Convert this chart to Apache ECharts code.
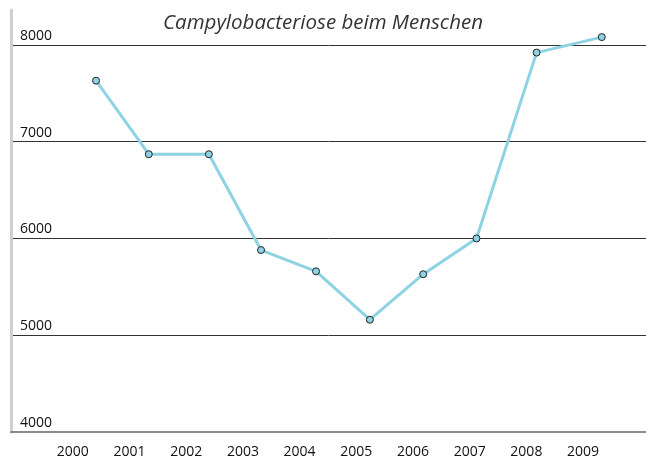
<!DOCTYPE html>
<html>
<head>
<meta charset="utf-8">
<script src="https://cdn.jsdelivr.net/npm/echarts@6/dist/echarts.min.js"></script>
<style>
  html, body { margin: 0; padding: 0; background: #fff; }
  #chart { width: 646px; height: 459px; }
</style>
</head>
<body>
<div id="chart"></div>
<script>
// year labels shown under the axis
const years = [2000, 2001, 2002, 2003, 2004, 2005, 2006, 2007, 2008, 2009]
// where each point sits on the year scale (points are not centred on labels)
const pointX = [2000.41, 2001.34, 2002.40, 2003.32, 2004.29, 2005.24, 2006.18, 2007.12, 2008.18, 2009.33]
// cases
const cases = [7630, 6870, 6870, 5880, 5660, 5160, 5630, 6000, 7920, 8080]

const chart = echarts.init(document.getElementById('chart'))

chart.setOption({
  animation: false,
  title: {
    text: 'Campylobacteriose beim Menschen',
    left: 'center',
    top: 8,
    textStyle: {
      fontFamily: 'Open Sans',
      fontStyle: 'italic',
      fontWeight: 'normal',
      fontSize: 20.5,
      color: '#333'
    }
  },
  grid: { left: 11, right: 0, top: 10, bottom: 27 },
  xAxis: {
    type: 'value',
    min: 1998.91,
    max: 2010.11,
    minInterval: 1,
    maxInterval: 1,
    splitLine: { show: false },
    axisTick: { show: false },
    axisLine: { lineStyle: { color: '#8a8a8a', width: 2 } },
    axisLabel: {
      showMinLabel: false,
      showMaxLabel: false,
      margin: 13,
      fontFamily: 'Open Sans',
      fontSize: 14,
      color: '#111',
      formatter: v => (years.indexOf(v) >= 0 ? String(v) : '')
    }
  },
  yAxis: {
    type: 'value',
    min: 4000,
    max: 8360,
    interval: 1000,
    axisLine: { show: true, lineStyle: { color: '#cfcfcf', width: 3 } },
    axisTick: { show: false },
    splitLine: {
      show: true,
      showMaxLine: false,
      lineStyle: { color: '#333', width: 1 }
    },
    axisLabel: {
      inside: true,
      margin: 9,
      showMaxLabel: false,
      verticalAlign: 'bottom',
      padding: [0, 0, 2, 0],
      fontFamily: 'Open Sans',
      fontSize: 14,
      color: '#111',
      formatter: v => (v % 1000 === 0 ? String(v) : '')
    }
  },
  series: [
    {
      type: 'line',
      data: pointX.map((x, i) => [x, cases[i]]),
      symbol: 'circle',
      symbolSize: 7,
      clip: false,
      lineStyle: { color: '#8ed3e3', width: 3 },
      itemStyle: { color: '#8ed3e3', borderColor: '#222', borderWidth: 1 }
    }
  ]
})
</script>
</body>
</html>
